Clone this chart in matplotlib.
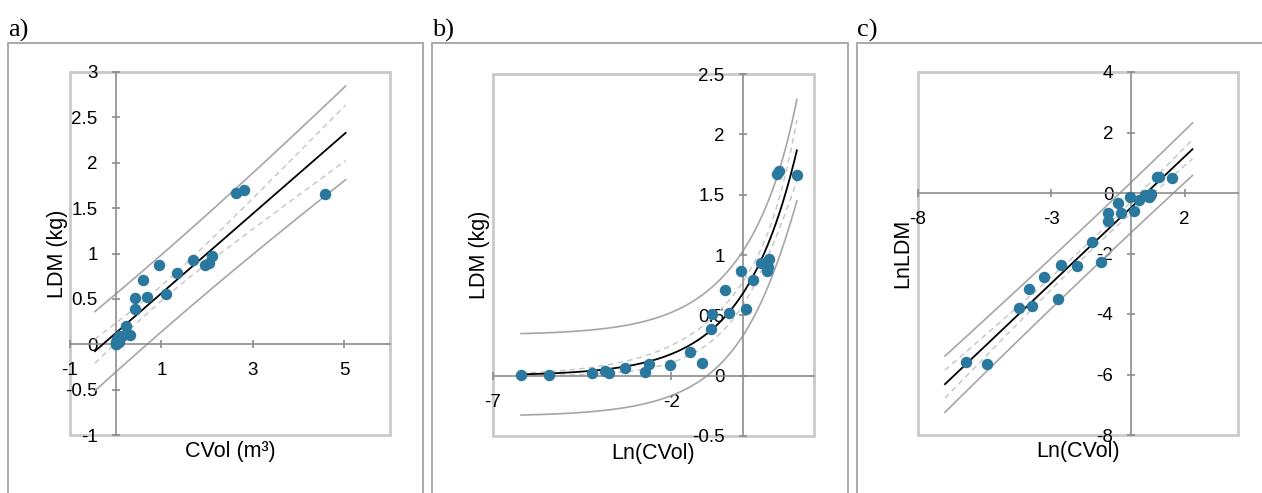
import numpy as np
import matplotlib.pyplot as plt
from matplotlib.patches import Rectangle

plt.rcParams['font.family'] = ['Liberation Sans', 'DejaVu Sans']
plt.rcParams['axes.unicode_minus'] = False

# crown volume (m3) and leaf dry mass (kg)
cvol = [0.0020, 0.0044, 0.0147, 0.0213, 0.0238, 0.0373, 0.0646, 0.0728, 0.130,
        0.228, 0.320, 0.411, 0.419, 0.607, 0.684, 0.951, 1.094, 1.350, 1.682,
        1.954, 2.034, 2.117, 2.638, 2.801, 4.572]
ldm = [0.0038, 0.0035, 0.022, 0.042, 0.024, 0.063, 0.030, 0.093, 0.089,
       0.196, 0.103, 0.39, 0.51, 0.71, 0.52, 0.87, 0.55, 0.79, 0.93,
       0.87, 0.90, 0.97, 1.67, 1.70, 1.66]

panel_letters = ['a)', 'b)', 'c)']
xlabels = ['CVol (m³)', 'Ln(CVol)', 'Ln(CVol)']
ylabels = ['LDM (kg)', 'LDM (kg)', 'LnLDM']
xticks = [[-1, 1, 3, 5], [-7, -2], [-8, -3, 2]]
yticks = [np.arange(-1, 3.01, 0.5), np.arange(-0.5, 2.51, 0.5), np.arange(-8, 4.1, 2)]
xlims = [(-1, 6), (-7, 2), (-8, 4)]
ylims = [(-1, 3), (-0.5, 2.5), (-8, 4)]

T95 = 2.069  # t(0.975, df = 23)

POINT = '#2b789f'
AXIS = '#8c8c8c'
BOX = '#cacaca'
PRED = '#a6a6a6'
CONF = '#c4c4c4'


def linear_fit(x, y, xs):
    n = len(x)
    b, a = np.polyfit(x, y, 1)
    s = np.sqrt(np.sum((y - (a + b * x)) ** 2) / (n - 2))
    sxx = np.sum((x - x.mean()) ** 2)
    se = s * np.sqrt(1 / n + (xs - x.mean()) ** 2 / sxx)
    return a + b * xs, T95 * se, T95 * np.sqrt(s ** 2 + se ** 2)


def exp_fit(x, y, xs):
    # y = a * exp(b * x), Gauss-Newton
    p = np.array([0.7, 0.6])
    for _ in range(200):
        e = np.exp(p[1] * x)
        J = np.column_stack([e, p[0] * x * e])
        p = p + np.linalg.lstsq(J, y - p[0] * e, rcond=None)[0]
    e = np.exp(p[1] * x)
    J = np.column_stack([e, p[0] * x * e])
    n = len(x)
    s2 = np.sum((y - p[0] * e) ** 2) / (n - 2)
    cov = s2 * np.linalg.inv(J.T @ J)
    es = np.exp(p[1] * xs)
    G = np.column_stack([es, p[0] * xs * es])
    var = np.einsum('ij,jk,ik->i', G, cov, G)
    return p[0] * es, T95 * np.sqrt(var), T95 * np.sqrt(s2 + var)


x_all = np.array(cvol)
y_all = np.array(ldm)
panel_x = [x_all, np.log(x_all), np.log(x_all)]
panel_y = [y_all, y_all, np.log(y_all)]

fig = plt.figure(figsize=(12.62, 4.93), dpi=100)
W, H = 1262, 493

# outer frames and panel letters (pixel positions)
frames = [(8, 423), (432, 848), (857, 1270)]
for (x0, x1), letter in zip(frames, panel_letters):
    fig.add_artist(Rectangle((x0 / W, -0.2), (x1 - x0) / W, 1.2 - 43 / H,
                             transform=fig.transFigure, fill=False,
                             edgecolor='#a3a3a3', lw=1.3))
    fig.text(x0 / W, 1 - 37 / H, letter, family='Liberation Serif',
             fontsize=19, va='baseline', ha='left')

boxes = [(70, 72, 390, 435), (493, 74, 814, 436), (918, 72, 1238, 435)]
ylab_off = [-13, -13, -15]

for i in range(3):
    l, t, r, b = boxes[i]
    ax = fig.add_axes([l / W, 1 - b / H, (r - l) / W, (b - t) / H])
    x = panel_x[i]
    y = panel_y[i]

    if i == 1:
        xs = np.linspace(x.min(), x.max(), 300)
        fit, conf, pred = exp_fit(x, y, xs)
    else:
        pad = 0.1 * (x.max() - x.min())
        xs = np.linspace(x.min() - pad, x.max() + pad, 300)
        fit, conf, pred = linear_fit(x, y, xs)

    ax.plot(xs, fit + pred, color=PRED, lw=1.2, zorder=2)
    ax.plot(xs, fit - pred, color=PRED, lw=1.2, zorder=2)
    ax.plot(xs, fit + conf, color=CONF, lw=1.0, ls=(0, (4, 3)), zorder=2)
    ax.plot(xs, fit - conf, color=CONF, lw=1.0, ls=(0, (4, 3)), zorder=2)
    ax.plot(xs, fit, color='black', lw=1.3, zorder=3)
    ax.scatter(x, y, s=68, color=POINT, zorder=4, linewidths=0)

    ax.set_xlim(*xlims[i])
    ax.set_ylim(*ylims[i])
    ax.set_xticks(xticks[i])
    ax.set_yticks(yticks[i])
    ax.set_yticklabels(['%g' % v for v in yticks[i]])

    for side in ['top', 'right']:
        ax.spines[side].set_visible(False)
    for side in ['left', 'bottom']:
        ax.spines[side].set_position(('data', 0))
        ax.spines[side].set_color(AXIS)
        ax.spines[side].set_linewidth(1.2)
    ax.tick_params(direction='inout', length=6, width=1.2, color=AXIS,
                   labelsize=13.5, pad=10)
    ax.add_patch(Rectangle((0, 0), 1, 1, transform=ax.transAxes, fill=False,
                           edgecolor=BOX, lw=2, clip_on=False, zorder=1))

    ax.text(0.5, -17 / (b - t), xlabels[i], transform=ax.transAxes,
            ha='center', va='center', fontsize=15.5)
    ax.text(ylab_off[i] / (r - l), 0.5, ylabels[i], transform=ax.transAxes,
            ha='center', va='center', rotation=90, fontsize=15.5)

fig.savefig('out.png', dpi=100)
